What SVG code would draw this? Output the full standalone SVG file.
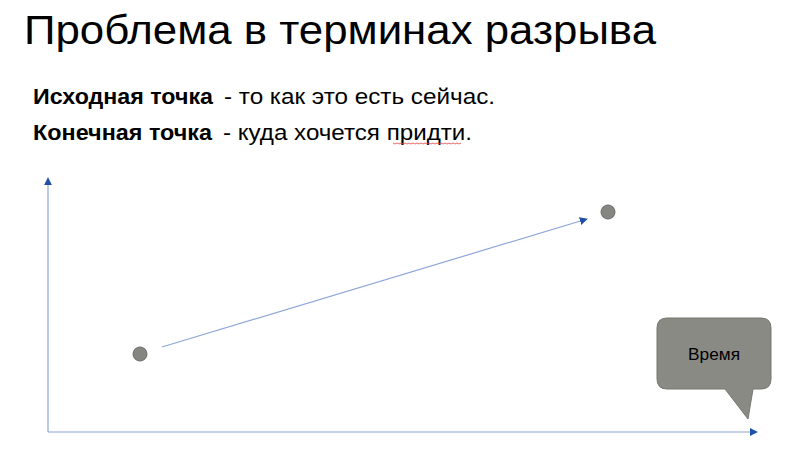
<svg xmlns="http://www.w3.org/2000/svg" width="800" height="455" viewBox="0 0 800 455">
<style>
.t{font-family:"Liberation Sans",Arial,sans-serif;fill:#000}
.b{font-weight:bold}
.ax{stroke:#8ea6d8;stroke-width:1.2;fill:none}
.dot{fill:#868681;stroke:#6b6b67;stroke-width:1}
</style>
<defs>
<marker id="ah" viewBox="0 0 10 10" refX="9" refY="5" markerWidth="8" markerHeight="8" markerUnits="userSpaceOnUse" orient="auto">
<path d="M0,0 L10,5 L0,10 z" fill="#1f4fa6"/>
</marker>
</defs>
<rect width="800" height="455" fill="#fff"/>
<text class="t" x="24" y="44" font-size="41" textLength="632" lengthAdjust="spacingAndGlyphs">Проблема в терминах разрыва</text>
<text class="t b" x="33" y="104" font-size="22" textLength="180" lengthAdjust="spacingAndGlyphs">Исходная точка</text>
<text class="t" x="224" y="104" font-size="22" textLength="271" lengthAdjust="spacingAndGlyphs">- то как это есть сейчас.</text>
<text class="t b" x="33" y="140" font-size="22" textLength="179" lengthAdjust="spacingAndGlyphs">Конечная точка</text>
<text class="t" x="223" y="140" font-size="22" textLength="249" lengthAdjust="spacingAndGlyphs">- куда хочется придти.</text>
<path d="M393,143 l2,1 l2,-1 l2,1 l2,-1 l2,1 l2,-1 l2,1 l2,-1 l2,1 l2,-1 l2,1 l2,-1 l2,1 l2,-1 l2,1 l2,-1 l2,1 l2,-1 l2,1 l2,-1 l2,1 l2,-1 l2,1 l2,-1 l2,1 l2,-1 l2,1 l2,-1 l2,1 l2,-1 l2,1 l2,-1 l2,1 l2,-1" fill="none" stroke="#e04040" stroke-width="0.8"/>
<g id="connectors">
<line class="ax" x1="48" y1="432" x2="48" y2="178" marker-end="url(#ah)"/>
<line class="ax" x1="48" y1="432" x2="757" y2="432" marker-end="url(#ah)"/>
<line class="ax" x1="162" y1="347" x2="587" y2="219" marker-end="url(#ah)"/>
</g>
<g id="start"><circle class="dot" cx="140" cy="354" r="7"/></g>
<g id="end"><circle class="dot" cx="608" cy="212" r="7"/></g>
<g id="time">
<path d="M667,318 H761 Q771,318 771,328 V379 Q771,389 761,389 H753 L748,419 L725,389 H667 Q657,389 657,379 V328 Q657,318 667,318 Z" fill="#8a8a85" stroke="#77776f" stroke-width="1"/>
<text class="t" x="688" y="360" font-size="17" textLength="52" lengthAdjust="spacingAndGlyphs">Время</text>
</g>
</svg>
